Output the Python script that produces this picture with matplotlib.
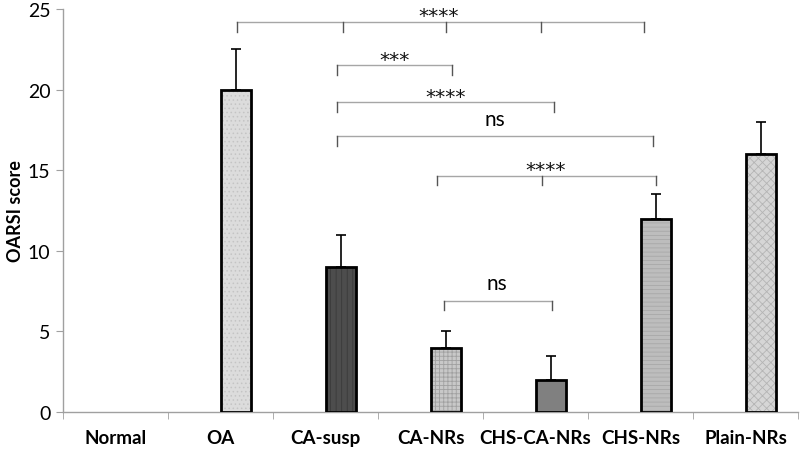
import matplotlib
matplotlib.use("Agg")
import matplotlib.pyplot as plt
import numpy as np

plt.rcParams['font.family'] = ['Lato', 'DejaVu Sans']

categories = ["Normal", "OA", "CA-susp", "CA-NRs", "CHS-CA-NRs", "CHS-NRs", "Plain-NRs"]
means = [0, 20, 9, 4, 2, 12, 16]
errors = [0, 2.5, 2, 1, 1.5, 1.5, 2]
yticks = [0, 5, 10, 15, 20, 25]

# bar appearance
faces = ["#ffffff", "#dcdcdc", "#4d4d4d", "#c8c8c8", "#808080", "#bdbdbd", "#d6d6d6"]
hatch_cols = ["#ffffff", "#c4c4c4", "#3a3a3a", "#a0a0a0", "#727272", "#a8a8a8", "#b4b4b4"]
hatches = [None, "....", "|||", "++++", "", "----", "xxxx"]

# significance brackets: (y, tick x positions, label, label x)
brackets = [
    (24.2, [1.157, 2.167, 3.148, 4.052, 5.033], "****", 3.08),
    (21.5, [2.11, 3.205], "***", 2.66),
    (19.2, [2.11, 4.176], "****", 3.148),
    (17.1, [2.11, 5.12], "ns", 3.61),
    (14.66, [3.06, 4.06, 5.15], "****", 4.1),
    (6.9, [3.13, 4.16], "ns", 3.63),
]

fig = plt.figure(figsize=(8, 4.52), dpi=100)
ax = fig.add_axes([63/800, 39/452, 735/800, 403/452])

x = np.arange(len(categories))
width = 0.29
plt.rcParams['hatch.linewidth'] = 0.6
for i, (m, e) in enumerate(zip(means, errors)):
    if m <= 0:
        continue
    ax.bar(x[i], m, width=width, align='edge', color=faces[i],
           edgecolor=hatch_cols[i], hatch=hatches[i] or None, linewidth=0, zorder=2)
    ax.bar(x[i], m, width=width, align='edge', fill=False,
           edgecolor='black', linewidth=2.0, zorder=3)
    ax.errorbar(x[i] + width/2, m, yerr=[[0], [e]], fmt='none', ecolor='black',
                elinewidth=1.2, capsize=3.5, capthick=1.2, zorder=1)

for y, xs, lab, lx in brackets:
    ax.plot([xs[0], xs[-1]], [y, y], color='#a6a6a6', lw=1.0, zorder=1)
    for xx in xs:
        ax.plot([xx, xx], [y, y - 0.6], color='#555555', lw=1.0, zorder=1)
    if lab.startswith('*'):
        ax.text(lx, y + 0.05, lab, ha='center', va='baseline', fontsize=14.5,
                family=['DejaVu Sans'], color='#111111')
    else:
        ax.text(lx, y + 1.1, lab, ha='center', va='center', fontsize=15,
                color='black')

ax.set_xlim(-0.5, 6.5)
ax.set_ylim(0, 25)
ax.set_yticks(yticks)
ax.set_yticklabels([str(t) for t in yticks], fontsize=14)
ax.set_xticks(x)
ax.set_xticklabels(categories, fontsize=13.5, fontweight='bold')
ax.set_xticks(np.arange(-0.5, 7, 1), minor=True)
ax.tick_params(axis='x', which='major', length=0, pad=12)
ax.tick_params(axis='x', which='minor', length=5, color='#a0a0a0', direction='out')
ax.tick_params(axis='y', length=5, color='#a0a0a0', direction='out', pad=4)
for s in ['top', 'right']:
    ax.spines[s].set_visible(False)
for s in ['left', 'bottom']:
    ax.spines[s].set_color('#a0a0a0')
    ax.spines[s].set_linewidth(1.0)
ax.set_ylabel("OARSI score", fontsize=13, fontweight='bold', labelpad=3)

fig.savefig("out.png", dpi=100)
